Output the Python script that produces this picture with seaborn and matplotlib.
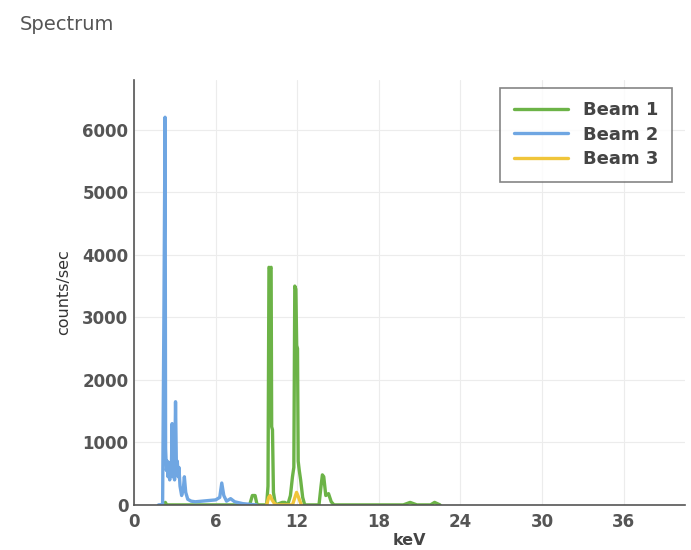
import pandas as pd
import matplotlib.pyplot as plt
import seaborn as sns
from matplotlib.ticker import MultipleLocator

# spectrum points (keV, counts/sec)
beam1_kev = [2.2, 2.3, 2.4, 8.5, 8.7, 8.9, 9.05, 9.75, 9.85, 9.92, 10.0, 10.08, 10.12, 10.18, 10.25, 10.4,
             10.9, 11.1, 11.3, 11.5, 11.65, 11.75, 11.82, 11.9, 11.96, 12.02, 12.07, 12.15, 12.25, 12.4, 12.55,
             13.6, 13.75, 13.85, 13.95, 14.1, 14.3, 14.5, 14.7, 19.8, 20.3, 20.8, 21.8, 22.1, 22.5]
beam1_cps = [0, 40, 0, 0, 150, 150, 0, 0, 300, 3800, 3780, 3800, 1250, 1200, 200, 0,
             40, 40, 0, 150, 450, 600, 3500, 3450, 2550, 2500, 700, 550, 400, 120, 0,
             0, 300, 480, 450, 150, 180, 50, 0, 0, 40, 0, 0, 40, 0]

beam2_kev = [1.8, 2.1, 2.2, 2.28, 2.32, 2.38, 2.44, 2.5, 2.56, 2.62, 2.68, 2.74, 2.8, 2.86, 2.92,
             2.98, 3.05, 3.12, 3.18, 3.24, 3.3, 3.38, 3.5, 3.62, 3.7, 3.8, 3.95, 4.2, 4.5, 5.0,
             5.5, 6.0, 6.3, 6.45, 6.6, 6.8, 7.1, 7.4, 8.0, 8.5, 9.0]
beam2_cps = [0, 5, 3200, 6200, 900, 550, 700, 450, 680, 400, 650, 500, 1300, 450, 600,
             400, 1650, 500, 700, 450, 600, 300, 150, 250, 450, 200, 90, 60, 50, 60,
             70, 80, 120, 350, 150, 60, 100, 50, 20, 10, 0]

beam3_kev = [9.75, 9.9, 10.0, 10.15, 10.3, 10.45, 11.65, 11.8, 11.95, 12.1, 12.3]
beam3_cps = [0, 120, 150, 80, 30, 0, 0, 100, 200, 120, 0]

beams = ['Beam 1', 'Beam 2', 'Beam 3']
colors = ['#6cb347', '#6fa6e2', '#f0c53a']

df = pd.concat([
    pd.DataFrame({'keV': beam1_kev, 'counts': beam1_cps, 'beam': beams[0]}),
    pd.DataFrame({'keV': beam2_kev, 'counts': beam2_cps, 'beam': beams[1]}),
    pd.DataFrame({'keV': beam3_kev, 'counts': beam3_cps, 'beam': beams[2]}),
], ignore_index=True)

sns.set_style('white')
plt.rcParams['font.family'] = ['DejaVu Sans']

fig = plt.figure(figsize=(6.91, 5.5), dpi=100)
ax = fig.add_axes([0.194, 0.082, 0.797, 0.773])
sns.lineplot(data=df, x='keV', y='counts', hue='beam', hue_order=beams,
             palette=dict(zip(beams, colors)), estimator=None, linewidth=2.4, ax=ax)

ax.set_xlim(0, 40.5)
ax.set_ylim(0, 6800)
ax.xaxis.set_major_locator(MultipleLocator(6))
ax.xaxis.set_minor_locator(MultipleLocator(2))
ax.yaxis.set_major_locator(MultipleLocator(1000))
ax.yaxis.set_minor_locator(MultipleLocator(200))
ax.tick_params(which='both', direction='in', colors='#555555', labelsize=12)
ax.tick_params(axis='x', pad=6)
ax.tick_params(axis='y', pad=4)
ax.tick_params(which='major', length=5)
ax.tick_params(which='minor', length=3)
for lbl in ax.get_xticklabels() + ax.get_yticklabels():
    lbl.set_fontweight('bold')
ax.grid(True, which='major', color='#ececec', linewidth=0.8)
for s in ['top', 'right']:
    ax.spines[s].set_visible(False)
for s in ['left', 'bottom']:
    ax.spines[s].set_color('#555555')
    ax.spines[s].set_linewidth(1.2)
    ax.spines[s].set_zorder(5)

ax.set_xlabel('keV', fontsize=11.5, fontweight='bold', color='#444444', labelpad=1)
ax.set_ylabel('counts/sec', fontsize=11.5, color='#333333', labelpad=8)

leg = ax.legend(loc='upper right', bbox_to_anchor=(0.976, 0.981), borderaxespad=0,
                frameon=True, fancybox=False, prop={'weight': 'bold', 'size': 13},
                handlelength=3.0, labelspacing=0.35, borderpad=0.75, handletextpad=0.8)
leg.get_frame().set_edgecolor('#666666')
leg.get_frame().set_linewidth(1.2)
for t in leg.get_texts():
    t.set_color('#444444')

fig.text(0.029, 0.946, 'Spectrum', fontsize=14, color='#555555')

fig.savefig('out.png', dpi=100)
